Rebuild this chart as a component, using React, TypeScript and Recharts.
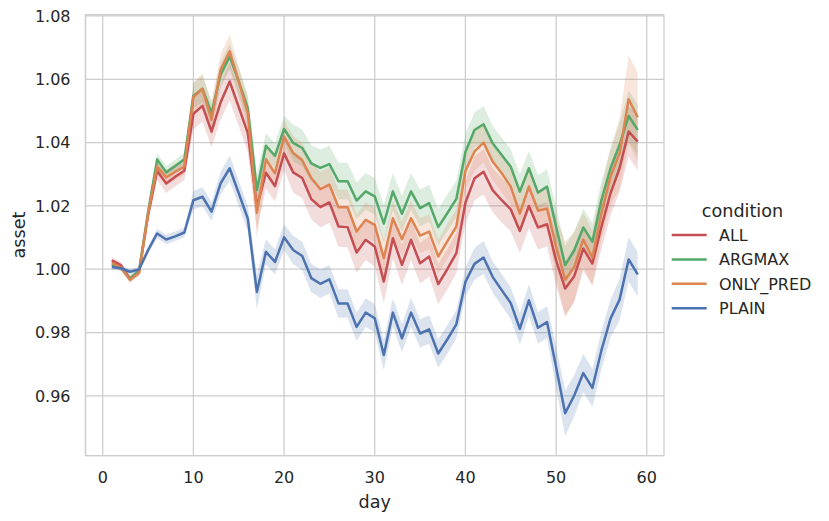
import React from 'react';
import { ComposedChart, Area, Line, XAxis, YAxis, CartesianGrid, Legend } from 'recharts';

const FONT = 'DejaVu Sans';
const INK = '#262626';
const GRID = '#cccccc';

// day 1..59
const DAYS = [
  1, 2, 3, 4, 5, 6, 7, 8, 9, 10, 11, 12, 13, 14, 15, 16, 17, 18, 19, 20,
  21, 22, 23, 24, 25, 26, 27, 28, 29, 30, 31, 32, 33, 34, 35, 36, 37, 38, 39, 40,
  41, 42, 43, 44, 45, 46, 47, 48, 49, 50, 51, 52, 53, 54, 55, 56, 57, 58, 59,
];

const ALL = [
  1.0028, 1.0013, 0.9970, 0.9989, 1.0170, 1.0311, 1.0271, 1.0292, 1.0311, 1.0491,
  1.0516, 1.0435, 1.0527, 1.0593, 1.0512, 1.0430, 1.0197, 1.0305, 1.0263, 1.0366,
  1.0306, 1.0288, 1.0222, 1.0196, 1.0211, 1.0135, 1.0133, 1.0053, 1.0093, 1.0072,
  0.9961, 1.0098, 1.0014, 1.0093, 1.0019, 1.0040, 0.9953, 1.0000, 1.0051, 1.0210,
  1.0287, 1.0308, 1.0250, 1.0218, 1.0189, 1.0121, 1.0200, 1.0132, 1.0142, 1.0028,
  0.9939, 0.9978, 1.0065, 1.0018, 1.0134, 1.0240, 1.0319, 1.0435, 1.0403,
];
const ARGMAX = [
  1.0015, 1.0005, 0.9970, 0.9995, 1.0180, 1.0347, 1.0306, 1.0326, 1.0347, 1.0548,
  1.0570, 1.0493, 1.0614, 1.0672, 1.0593, 1.0509, 1.0250, 1.0390, 1.0358, 1.0443,
  1.0399, 1.0383, 1.0334, 1.0320, 1.0332, 1.0278, 1.0278, 1.0217, 1.0246, 1.0230,
  1.0144, 1.0246, 1.0175, 1.0246, 1.0193, 1.0209, 1.0133, 1.0177, 1.0222, 1.0370,
  1.0440, 1.0458, 1.0398, 1.0361, 1.0324, 1.0245, 1.0319, 1.0242, 1.0261, 1.0134,
  1.0013, 1.0060, 1.0132, 1.0087, 1.0218, 1.0319, 1.0393, 1.0484, 1.0440,
];
const ONLY_PRED = [
  1.0020, 1.0006, 0.9967, 0.9989, 1.0175, 1.0324, 1.0290, 1.0308, 1.0324, 1.0544,
  1.0570, 1.0472, 1.0630, 1.0688, 1.0593, 1.0493, 1.0178, 1.0347, 1.0303, 1.0419,
  1.0367, 1.0344, 1.0288, 1.0253, 1.0267, 1.0196, 1.0196, 1.0119, 1.0156, 1.0140,
  1.0035, 1.0161, 1.0095, 1.0161, 1.0106, 1.0119, 1.0040, 1.0088, 1.0135, 1.0310,
  1.0372, 1.0400, 1.0340, 1.0303, 1.0261, 1.0176, 1.0261, 1.0185, 1.0192, 1.0071,
  0.9967, 1.0007, 1.0094, 1.0037, 1.0176, 1.0292, 1.0366, 1.0537, 1.0480,
];
const PLAIN = [
  1.0007, 1.0003, 0.9992, 0.9999, 1.0060, 1.0113, 1.0094, 1.0104, 1.0116, 1.0218,
  1.0229, 1.0182, 1.0271, 1.0319, 1.0240, 1.0160, 0.9928, 1.0055, 1.0023, 1.0101,
  1.0061, 1.0042, 0.9972, 0.9954, 0.9968, 0.9892, 0.9892, 0.9818, 0.9863, 0.9845,
  0.9729, 0.9863, 0.9782, 0.9863, 0.9797, 0.9810, 0.9734, 0.9778, 0.9826, 0.9960,
  1.0017, 1.0037, 0.9976, 0.9934, 0.9893, 0.9812, 0.9902, 0.9815, 0.9833, 0.9691,
  0.9545, 0.9601, 0.9672, 0.9625, 0.9744, 0.9844, 0.9904, 1.0031, 0.9984,
];

// half width of the 95% band, per day
const ALL_CI = [
  0.0010, 0.0010, 0.0010, 0.0010, 0.0015, 0.0030, 0.0030, 0.0030, 0.0030, 0.0050,
  0.0050, 0.0050, 0.0055, 0.0060, 0.0060, 0.0060, 0.0070, 0.0050, 0.0050, 0.0052,
  0.0064, 0.0064, 0.0064, 0.0064, 0.0064, 0.0064, 0.0064, 0.0064, 0.0064, 0.0064,
  0.0068, 0.0064, 0.0064, 0.0064, 0.0064, 0.0064, 0.0064, 0.0064, 0.0064, 0.0066,
  0.0070, 0.0072, 0.0070, 0.0070, 0.0070, 0.0070, 0.0070, 0.0070, 0.0070, 0.0080,
  0.0085, 0.0080, 0.0070, 0.0070, 0.0070, 0.0070, 0.0075, 0.0080, 0.0090,
];
const ARGMAX_CI = [
  0.0010, 0.0010, 0.0010, 0.0010, 0.0015, 0.0020, 0.0020, 0.0020, 0.0020, 0.0040,
  0.0040, 0.0040, 0.0040, 0.0040, 0.0040, 0.0040, 0.0050, 0.0040, 0.0040, 0.0042,
  0.0058, 0.0058, 0.0058, 0.0058, 0.0058, 0.0058, 0.0058, 0.0058, 0.0058, 0.0058,
  0.0060, 0.0058, 0.0058, 0.0058, 0.0058, 0.0058, 0.0058, 0.0058, 0.0058, 0.0058,
  0.0055, 0.0058, 0.0055, 0.0055, 0.0055, 0.0055, 0.0055, 0.0055, 0.0055, 0.0060,
  0.0062, 0.0060, 0.0060, 0.0060, 0.0060, 0.0060, 0.0070, 0.0080, 0.0080,
];
const ONLY_PRED_CI = [
  0.0010, 0.0010, 0.0010, 0.0010, 0.0015, 0.0025, 0.0025, 0.0025, 0.0025, 0.0045,
  0.0050, 0.0050, 0.0050, 0.0053, 0.0050, 0.0050, 0.0080, 0.0050, 0.0050, 0.0050,
  0.0055, 0.0055, 0.0055, 0.0055, 0.0055, 0.0055, 0.0055, 0.0055, 0.0055, 0.0055,
  0.0060, 0.0055, 0.0055, 0.0055, 0.0055, 0.0055, 0.0055, 0.0055, 0.0055, 0.0060,
  0.0060, 0.0062, 0.0060, 0.0060, 0.0060, 0.0060, 0.0060, 0.0060, 0.0060, 0.0095,
  0.0120, 0.0110, 0.0085, 0.0085, 0.0080, 0.0090, 0.0110, 0.0140, 0.0140,
];
const PLAIN_CI = [
  0.0008, 0.0008, 0.0008, 0.0008, 0.0012, 0.0015, 0.0015, 0.0015, 0.0015, 0.0030,
  0.0030, 0.0030, 0.0035, 0.0040, 0.0040, 0.0040, 0.0055, 0.0040, 0.0040, 0.0040,
  0.0045, 0.0045, 0.0045, 0.0045, 0.0045, 0.0045, 0.0045, 0.0045, 0.0045, 0.0045,
  0.0048, 0.0045, 0.0045, 0.0045, 0.0045, 0.0045, 0.0045, 0.0045, 0.0045, 0.0045,
  0.0050, 0.0052, 0.0050, 0.0050, 0.0050, 0.0050, 0.0050, 0.0050, 0.0050, 0.0065,
  0.0072, 0.0065, 0.0060, 0.0060, 0.0060, 0.0060, 0.0065, 0.0070, 0.0070,
];

const X_TICKS = [0, 10, 20, 30, 40, 50, 60];
const Y_TICKS = [0.96, 0.98, 1.0, 1.02, 1.04, 1.06, 1.08];

const SERIES = [
  { key: 'ALL', values: ALL, ci: ALL_CI, color: '#c44e52' },
  { key: 'ARGMAX', values: ARGMAX, ci: ARGMAX_CI, color: '#55a868' },
  { key: 'ONLY_PRED', values: ONLY_PRED, ci: ONLY_PRED_CI, color: '#dd8452' },
  { key: 'PLAIN', values: PLAIN, ci: PLAIN_CI, color: '#4c72b0' },
];

const data = DAYS.map((day, i) => {
  const row: any = { day };
  SERIES.forEach((s) => {
    row[s.key] = s.values[i];
    row[s.key + '_band'] = [s.values[i] - s.ci[i], s.values[i] + s.ci[i]];
  });
  return row;
});

const tickStyle = { fill: INK, fontSize: 16, fontFamily: FONT };

const renderLegend = () => (
  <svg width={160} height={130} style={{ display: 'block', fontFamily: FONT }}>
    <text x={77.5} y={22.3} textAnchor="middle" fontSize={17.6} fill={INK}>condition</text>
    {SERIES.map((s, i) => {
      const y = 40 + i * 24.4;
      return (
        <g key={s.key}>
          <line x1={6.7} x2={41.7} y1={y} y2={y} stroke={s.color} strokeWidth={2.5} />
          <text x={54} y={y + 6} fontSize={16} fill={INK}>{s.key}</text>
        </g>
      );
    })}
  </svg>
);

export default function App() {
  return (
    <div style={{ position: 'absolute', left: 0, top: 0, width: 829, height: 521, background: '#fff', fontFamily: FONT }}>
      <ComposedChart
        width={829}
        height={521}
        data={data}
        margin={{ top: 14.7, right: 165, bottom: 25.3, left: 0 }}
        style={{ fontFamily: FONT }}
      >
        <CartesianGrid stroke={GRID} strokeWidth={1.25} />
        <XAxis
          dataKey="day"
          type="number"
          domain={[-1.9, 61.9]}
          ticks={X_TICKS}
          interval={0}
          allowDataOverflow
          height={40}
          tickLine={false}
          tickSize={0}
          tickMargin={16}
          axisLine={{ stroke: GRID, strokeWidth: 1.25 }}
          tick={tickStyle}
          label={(p: any) => {
            const vb = p.viewBox || {};
            const cx = vb.width ? vb.x + vb.width / 2 : 375;
            return (
              <text x={cx} y={507.5} textAnchor="middle" fontSize={17.6} fill={INK} fontFamily={FONT}>day</text>
            );
          }}
        />
        <YAxis
          type="number"
          domain={[0.9411, 1.0804]}
          ticks={Y_TICKS}
          interval={0}
          allowDataOverflow
          width={85.5}
          tickLine={false}
          tickSize={0}
          tickMargin={15}
          axisLine={{ stroke: GRID, strokeWidth: 1.25 }}
          tick={tickStyle}
          tickFormatter={(v: number) => v.toFixed(2)}
          label={() => (
            <text x={25} y={235} transform="rotate(-90, 25, 235)" textAnchor="middle" fontSize={17.6} fill={INK} fontFamily={FONT}>asset</text>
          )}
        />

        {SERIES.map((s) => (
          <Area
            key={s.key + '_band'}
            type="linear"
            dataKey={s.key + '_band'}
            stroke="none"
            fill={s.color}
            fillOpacity={0.2}
            legendType="none"
            dot={false}
            activeDot={false}
            isAnimationActive={false}
          />
        ))}
        {SERIES.map((s) => (
          <Line
            key={s.key}
            type="linear"
            dataKey={s.key}
            name={s.key}
            stroke={s.color}
            strokeWidth={2.5}
            strokeLinejoin="round"
            dot={false}
            activeDot={false}
            isAnimationActive={false}
          />
        ))}

        <Legend
          layout="vertical"
          align="center"
          verticalAlign="middle"
          content={renderLegend}
          wrapperStyle={{ left: 665, top: 195, width: 160, height: 130, bottom: 'auto', right: 'auto' }}
        />
      </ComposedChart>
    </div>
  );
}
